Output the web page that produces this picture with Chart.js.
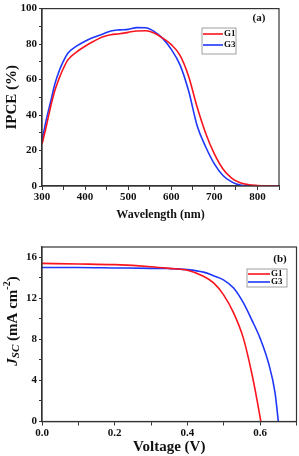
<!DOCTYPE html>
<html>
<head>
<meta charset="utf-8">
<script src="https://cdn.jsdelivr.net/npm/chart.js@4.4.0/dist/chart.umd.min.js"></script>
<style>
  body { margin: 0; background: #fff; width: 299px; height: 456px; overflow: hidden; }
  canvas { position: absolute; left: 0; }
  #graficoIpce { top: 0; }
  #graficoJv { top: 225px; }
</style>
</head>
<body>
<canvas id="graficoIpce" width="299" height="225"></canvas>
<canvas id="graficoJv" width="299" height="231"></canvas>
<script>
// (a) IPCE
const comprimentoOnda = [300, 310, 320, 330, 340, 350, 360, 380, 400, 420, 440, 460, 480, 500, 520, 540, 560, 580, 600, 620, 640, 660, 680, 700, 720, 740, 760, 780, 800, 820, 850];
const ipceG1 = [23.6, 33.7, 44.7, 54, 60.8, 66.5, 71.1, 75.5, 78.8, 81.6, 84, 85.3, 85.8, 86.6, 87.4, 87.5, 86.3, 83.4, 79.7, 73.8, 62, 44.5, 29.6, 18.1, 9.6, 4.5, 1.8, 0.7, 0.3, 0.1, 0];
const ipceG3 = [25.4, 37.4, 47.5, 57.6, 65, 70.5, 74.8, 78.8, 81.6, 83.8, 85.6, 87.4, 88, 88.3, 89.3, 89.2, 87.2, 83.2, 77, 68.4, 53.8, 34, 22, 12.5, 5.9, 2.3, 0.5, 0.1, 0, 0, 0];

// (b) curvas J-V
const tensaoG1 = [0, 0.1, 0.2, 0.3, 0.35, 0.4, 0.444, 0.472, 0.499, 0.527, 0.554, 0.577, 0.593, 0.602];
const jscG1 = [15.4, 15.35, 15.28, 15.08, 14.92, 14.73, 14.15, 13.5, 12.36, 10.58, 8.1, 4.7, 1.8, 0];
const tensaoG3 = [0, 0.1, 0.2, 0.3, 0.35, 0.4, 0.444, 0.472, 0.499, 0.527, 0.554, 0.577, 0.6, 0.623, 0.641, 0.65];
const jscG3 = [15.0, 15.0, 14.96, 14.92, 14.9, 14.8, 14.55, 14.2, 13.8, 13.0, 11.55, 9.9, 8.1, 5.7, 2.8, 0];

const rotulosSerie = ["G1", "G3"];

const FONTE = "'Liberation Serif', 'Times New Roman', serif";
const VERMELHO = "rgb(250, 20, 30)";
const AZUL = "rgb(30, 55, 250)";

function pares(xs, ys) {
    return xs.map((x, i) => ({ x, y: ys[i] }));
}

// moldura, legenda com caixa e rótulo do painel
const molduraPlugin = {
    id: "moldura",
    afterDatasetsDraw(chart, args, opts) {
        const { ctx, chartArea: a } = chart;
        ctx.save();
        ctx.strokeStyle = "#333";
        ctx.lineWidth = 1.2;
        ctx.strokeRect(a.left, a.top, a.right - a.left, a.bottom - a.top);

        ctx.fillStyle = "#111";
        ctx.font = `bold 11px ${FONTE}`;
        ctx.textAlign = "center";
        ctx.textBaseline = "middle";
        ctx.fillText(opts.painel, opts.painelX, opts.painelY);

        const L = opts.legenda;
        ctx.strokeStyle = "#888";
        ctx.lineWidth = 0.8;
        ctx.strokeRect(L.x, L.y, L.w, L.h);
        ctx.font = `bold 9px ${FONTE}`;
        ctx.textAlign = "left";
        chart.data.datasets.forEach((ds, i) => {
            const y = L.y + L.linha0 + i * L.passo;
            ctx.strokeStyle = ds.borderColor;
            ctx.lineWidth = 1.6;
            ctx.beginPath();
            ctx.moveTo(L.x + 1, y);
            ctx.lineTo(L.x + L.traco, y);
            ctx.stroke();
            ctx.fillText(ds.label, L.x + L.traco + 1, y);
        });
        ctx.restore();
    }
};

// título do eixo y do painel (b), com subscrito e sobrescrito
const tituloJscPlugin = {
    id: "tituloJsc",
    afterDraw(chart) {
        const ctx = chart.ctx;
        const partes = [
            { t: "J", f: `italic bold 15px ${FONTE}`, dy: 0 },
            { t: "SC", f: `italic bold 11px ${FONTE}`, dy: 3 },
            { t: " (mA cm", f: `bold 15px ${FONTE}`, dy: 0 },
            { t: "-2", f: `bold 10px ${FONTE}`, dy: -6 },
            { t: ")", f: `bold 15px ${FONTE}`, dy: 0 }
        ];
        ctx.save();
        let total = 0;
        partes.forEach(p => { ctx.font = p.f; p.w = ctx.measureText(p.t).width; total += p.w; });
        ctx.translate(13, 96);
        ctx.rotate(-Math.PI / 2);
        ctx.fillStyle = "#111";
        ctx.textBaseline = "middle";
        ctx.textAlign = "left";
        let x = -total / 2;
        partes.forEach(p => {
            ctx.font = p.f;
            ctx.fillText(p.t, x, p.dy);
            x += p.w;
        });
        ctx.restore();
    }
};

function eixo(extra) {
    return Object.assign({
        type: "linear",
        border: { color: "#333", width: 1.2 },
        grid: { drawOnChartArea: false, tickLength: 4, tickColor: "#333", tickWidth: 1 }
    }, extra);
}

const fonteTick = { family: FONTE, weight: "bold", size: 11 };

function serie(label, dados, cor) {
    return {
        label,
        data: dados,
        borderColor: cor,
        backgroundColor: cor,
        borderWidth: 1.6,
        pointRadius: 0,
        fill: false,
        cubicInterpolationMode: "monotone"
    };
}

new Chart(document.getElementById("graficoIpce"), {
    type: "line",
    data: {
        datasets: [
            serie(rotulosSerie[0], pares(comprimentoOnda, ipceG1), VERMELHO),
            serie(rotulosSerie[1], pares(comprimentoOnda, ipceG3), AZUL)
        ]
    },
    options: {
        responsive: false,
        animation: false,
        layout: { padding: { top: 5, right: 20, left: 0, bottom: 0 } },
        plugins: {
            legend: { display: false },
            tooltip: { enabled: false },
            moldura: {
                painel: "(a)", painelX: 259, painelY: 18,
                legenda: { x: 202, y: 28, w: 34, h: 26, linha0: 6, passo: 11, traco: 21 }
            }
        },
        scales: {
            x: eixo({
                min: 300, max: 850,
                afterFit: s => { s.height = 39; },
                ticks: {
                    stepSize: 50, autoSkip: false, maxRotation: 0, padding: 1, color: "#111", font: fonteTick,
                    callback: v => v % 100 === 0 ? v : ""
                },
                title: { display: true, text: "Wavelength (nm)", color: "#111", font: { family: FONTE, weight: "bold", size: 12 }, padding: { top: 0, bottom: 3 } }
            }),
            y: eixo({
                min: 0, max: 100,
                afterFit: s => { s.width = 42; },
                ticks: {
                    stepSize: 10, autoSkip: false, padding: 2, color: "#111", font: fonteTick,
                    callback: v => v % 20 === 0 ? v : ""
                },
                grid: { drawOnChartArea: false, tickLength: 3, tickColor: "#333" },
                title: { display: true, text: "IPCE (%)", color: "#111", font: { family: FONTE, weight: "bold", size: 15 }, padding: { top: 3, bottom: 0 } }
            })
        }
    },
    plugins: [molduraPlugin]
});

new Chart(document.getElementById("graficoJv"), {
    type: "line",
    data: {
        datasets: [
            serie(rotulosSerie[0], pares(tensaoG1, jscG1), VERMELHO),
            serie(rotulosSerie[1], pares(tensaoG3, jscG3), AZUL)
        ]
    },
    options: {
        responsive: false,
        animation: false,
        layout: { padding: { top: 22, right: 2.5, left: 0, bottom: 0 } },
        plugins: {
            legend: { display: false },
            tooltip: { enabled: false },
            moldura: {
                painel: "(b)", painelX: 280, painelY: 34,
                legenda: { x: 247, y: 44, w: 40, h: 18, linha0: 5, passo: 8, traco: 23 }
            }
        },
        scales: {
            x: eixo({
                min: 0, max: 0.7,
                afterFit: s => { s.height = 34.5; },
                ticks: {
                    stepSize: 0.1, autoSkip: false, maxRotation: 0, padding: 1, color: "#111", font: fonteTick,
                    callback: v => Math.round(v * 10) % 2 === 0 ? v.toFixed(1) : ""
                },
                title: { display: true, text: "Voltage (V)", color: "#111", font: { family: FONTE, weight: "bold", size: 15 }, padding: { top: 0, bottom: 0 } }
            }),
            y: eixo({
                min: 0, max: 17,
                afterFit: s => { s.width = 42; },
                ticks: {
                    stepSize: 2, includeBounds: false, autoSkip: false, padding: 2, color: "#111", font: fonteTick,
                    callback: v => v % 4 === 0 ? v : ""
                },
                grid: { drawOnChartArea: false, tickLength: 3, tickColor: "#333" },
                title: { display: false }
            })
        }
    },
    plugins: [molduraPlugin, tituloJscPlugin]
});
</script>
</body>
</html>
